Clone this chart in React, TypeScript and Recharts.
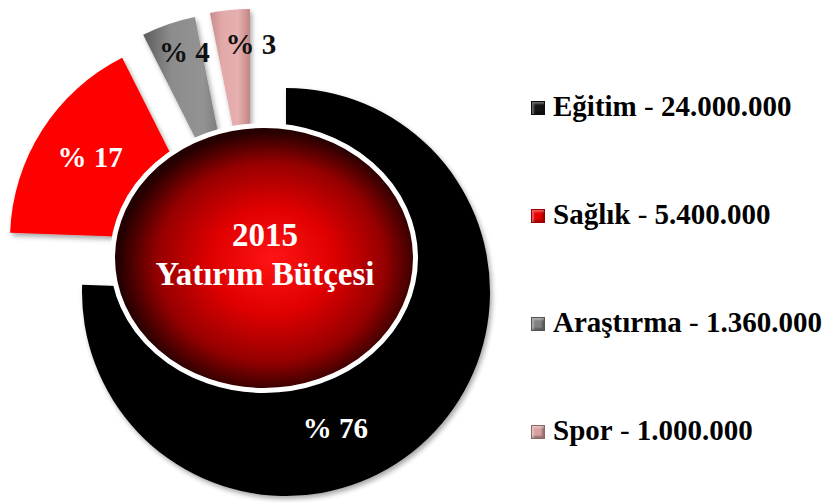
import React from "react";
import { PieChart, Pie, Cell, Legend } from "recharts";

const categories = ["Eğitim", "Sağlık", "Araştırma", "Spor"];
const budget = [24000000, 5400000, 1360000, 1000000];
const titleLines = ["2015", "Yatırım Bütçesi"];

const sliceFill = ["#040404", "#fe0000", "url(#grayBevel)", "url(#pinkBevel)"];
const legendColors = ["#151515", "#e60000", "#808080", "#d9a0a0"];
const labelColors = ["#ffffff", "#ffffff", "#111111", "#111111"];
// how far each slice is pulled out of the pie (dx, dy)
const explode = [
  [0, 0],
  [-72, -52],
  [-51, -75],
  [-36, -79],
];
const labelRadius = [0.71, 0.73, 0.845, 0.83];
const labelShift = [-24, -1, -2, -6];

const data = categories.map((name, i) => ({ name, value: budget[i] }));

const CX = 286;
const CY = 292;
const R = 204;
const RAD = Math.PI / 180;
const FONT = '"Liberation Serif", "Times New Roman", serif';

const fmt = (v: number) => String(v).replace(/\B(?=(\d{3})+(?!\d))/g, ".");

const renderLabel = (k: number) => (props: any) => {
  const { cx, cy, midAngle, outerRadius, percent, index } = props;
  if (index !== k) return null;
  const a = (midAngle + labelShift[k]) * RAD;
  const r = outerRadius * labelRadius[k];
  return (
    <text
      x={cx + r * Math.cos(a)}
      y={cy - r * Math.sin(a)}
      fill={labelColors[k]}
      textAnchor="middle"
      dominantBaseline="central"
      fontFamily={FONT}
      fontWeight="bold"
      fontSize={29}
    >
      {`% ${Math.round(percent * 100)}`}
    </text>
  );
};

const LegendList = () => (
  <div style={{ fontFamily: FONT, fontWeight: "bold", fontSize: 29, color: "#000" }}>
    {categories.map((name, idx) => (
      <div
        key={name}
        style={{ position: "relative", height: 108, lineHeight: "32px", paddingLeft: 25, whiteSpace: "nowrap" }}
      >
        <span
          style={{
            position: "absolute",
            left: 3,
            top: 11,
            width: 14,
            height: 14,
            boxSizing: "border-box",
            background: legendColors[idx],
            border: "1px solid rgba(0,0,0,0.35)",
            boxShadow: "inset 2px 2px 2px rgba(255,255,255,0.35), inset -2px -2px 2px rgba(0,0,0,0.3)",
          }}
        />
        {name}
        <span style={{ fontWeight: "normal" }}> - </span>
        {fmt(budget[idx])}
      </div>
    ))}
  </div>
);

export default function App() {
  return (
    <div style={{ position: "relative", width: 827, height: 503, background: "#fff", overflow: "hidden" }}>
      <style>{"body{margin:0}"}</style>
      <PieChart width={827} height={503} margin={{ top: 0, right: 0, bottom: 0, left: 0 }}>
        <defs>
          <linearGradient id="grayBevel" x1="0" y1="0" x2="1" y2="0">
            <stop offset="0" stopColor="#5c5c5c" />
            <stop offset="0.3" stopColor="#8c8c8c" />
            <stop offset="0.65" stopColor="#939393" />
            <stop offset="1" stopColor="#666666" />
          </linearGradient>
          <linearGradient id="pinkBevel" x1="0" y1="0" x2="1" y2="0">
            <stop offset="0" stopColor="#c88a8a" />
            <stop offset="0.3" stopColor="#e2a9a9" />
            <stop offset="0.7" stopColor="#e6b0b0" />
            <stop offset="1" stopColor="#c38585" />
          </linearGradient>
          <filter id="drop" x="-15%" y="-15%" width="140%" height="140%">
            <feDropShadow dx="2" dy="3" stdDeviation="2.5" floodColor="#000" floodOpacity="0.35" />
          </filter>
        </defs>
        {categories.map((_, k) => (
          <Pie
            key={k}
            data={data}
            dataKey="value"
            nameKey="name"
            cx={CX + explode[k][0]}
            cy={CY + explode[k][1]}
            innerRadius={0}
            outerRadius={R}
            startAngle={90}
            endAngle={-270}
            stroke="none"
            legendType={k === 0 ? "square" : "none"}
            label={renderLabel(k)}
            labelLine={false}
            isAnimationActive={false}
          >
            {data.map((d, i) => (
              <Cell
                key={d.name}
                fill={i === k ? sliceFill[i] : "none"}
                filter={i === k ? "url(#drop)" : undefined}
              />
            ))}
          </Pie>
        ))}
        <Legend
          layout="vertical"
          align="right"
          verticalAlign="top"
          content={<LegendList />}
          wrapperStyle={{ left: 528, top: 90, width: 299, height: 413 }}
        />
      </PieChart>
      <svg
        width={827}
        height={503}
        style={{ position: "absolute", left: 0, top: 0, pointerEvents: "none" }}
      >
        <defs>
          <radialGradient id="core" cx="0.52" cy="0.52" r="0.5" fx="0.53" fy="0.5">
            <stop offset="0" stopColor="#ff1414" />
            <stop offset="0.4" stopColor="#e00000" />
            <stop offset="0.75" stopColor="#960000" />
            <stop offset="1" stopColor="#240000" />
          </radialGradient>
        </defs>
        <ellipse cx={CX - 22} cy={CY - 34} rx={151.5} ry={132.5} fill="url(#core)" stroke="#ffffff" strokeWidth={5} />
        <text x={CX - 21} y={CY - 46} textAnchor="middle" fill="#fff" fontFamily={FONT} fontWeight="bold" fontSize={33}>
          {titleLines[0]}
        </text>
        <text x={CX - 21} y={CY - 7} textAnchor="middle" fill="#fff" fontFamily={FONT} fontWeight="bold" fontSize={33}>
          {titleLines[1]}
        </text>
      </svg>
    </div>
  );
}
